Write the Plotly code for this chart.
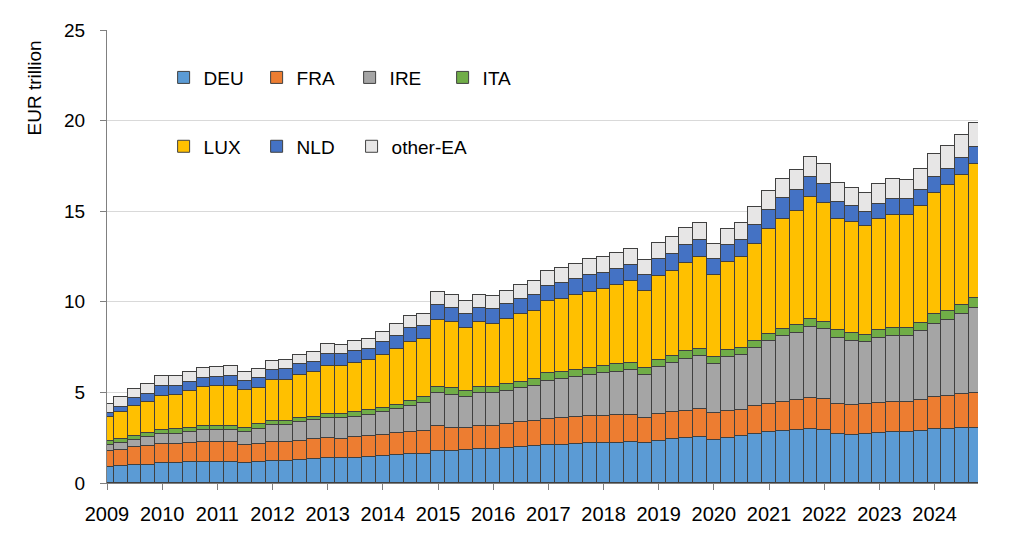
import plotly.graph_objects as go

# quarterly positions of euro area investment funds, EUR trillion
years = list(range(2009, 2025))
quarters = [f"{y}Q{q}" for y in years for q in range(1, 5)]

deu = [0.87, 0.94, 1.00, 1.02, 1.09, 1.09, 1.16, 1.16, 1.16, 1.16, 1.13, 1.16,
       1.24, 1.22, 1.27, 1.31, 1.36, 1.36, 1.38, 1.42, 1.47, 1.53, 1.58, 1.62,
       1.77, 1.75, 1.81, 1.88, 1.88, 1.93, 2.01, 2.04, 2.10, 2.12, 2.17, 2.19,
       2.19, 2.21, 2.24, 2.20, 2.32, 2.41, 2.48, 2.54, 2.37, 2.50, 2.59, 2.70,
       2.79, 2.88, 2.92, 2.98, 2.90, 2.72, 2.66, 2.70, 2.76, 2.81, 2.81, 2.88,
       2.98, 2.98, 3.05, 3.05]
fra = [0.88, 0.88, 0.99, 1.04, 1.06, 1.06, 1.05, 1.08, 1.12, 1.08, 0.99, 1.01,
       1.04, 1.03, 1.07, 1.10, 1.10, 1.09, 1.14, 1.15, 1.18, 1.21, 1.23, 1.25,
       1.37, 1.28, 1.23, 1.28, 1.28, 1.34, 1.35, 1.39, 1.44, 1.46, 1.48, 1.50,
       1.52, 1.54, 1.52, 1.40, 1.48, 1.50, 1.49, 1.54, 1.47, 1.47, 1.43, 1.56,
       1.58, 1.61, 1.66, 1.72, 1.74, 1.65, 1.64, 1.65, 1.68, 1.68, 1.65, 1.71,
       1.76, 1.83, 1.87, 1.91]
ire = [0.33, 0.39, 0.40, 0.46, 0.53, 0.55, 0.58, 0.66, 0.64, 0.68, 0.69, 0.82,
       0.90, 0.95, 1.02, 1.04, 1.12, 1.13, 1.15, 1.19, 1.26, 1.34, 1.46, 1.54,
       1.82, 1.82, 1.73, 1.80, 1.80, 1.80, 1.87, 1.93, 2.11, 2.14, 2.20, 2.29,
       2.36, 2.39, 2.49, 2.35, 2.60, 2.69, 2.89, 2.93, 2.73, 2.96, 3.02, 3.19,
       3.44, 3.60, 3.71, 3.92, 3.86, 3.61, 3.55, 3.41, 3.54, 3.60, 3.66, 3.79,
       4.06, 4.19, 4.38, 4.70]
ita = [0.22, 0.22, 0.22, 0.24, 0.26, 0.28, 0.26, 0.26, 0.24, 0.24, 0.24, 0.24,
       0.24, 0.22, 0.22, 0.20, 0.22, 0.22, 0.24, 0.26, 0.25, 0.25, 0.28, 0.33,
       0.33, 0.38, 0.33, 0.34, 0.32, 0.38, 0.36, 0.36, 0.40, 0.39, 0.39, 0.37,
       0.40, 0.43, 0.37, 0.37, 0.40, 0.42, 0.40, 0.40, 0.38, 0.39, 0.41, 0.40,
       0.42, 0.42, 0.42, 0.43, 0.40, 0.45, 0.42, 0.42, 0.44, 0.44, 0.42, 0.46,
       0.50, 0.49, 0.55, 0.53]
lux = [1.37, 1.48, 1.65, 1.70, 1.87, 1.88, 2.02, 2.13, 2.18, 2.20, 2.07, 2.02,
       2.25, 2.29, 2.38, 2.46, 2.67, 2.67, 2.69, 2.75, 2.92, 3.08, 3.24, 3.18,
       3.68, 3.63, 3.47, 3.57, 3.50, 3.59, 3.74, 3.80, 3.99, 4.04, 4.12, 4.21,
       4.25, 4.34, 4.51, 4.28, 4.64, 4.69, 4.89, 5.04, 4.54, 4.89, 5.00, 5.35,
       5.77, 6.08, 6.31, 6.71, 6.57, 6.16, 6.12, 5.99, 6.13, 6.28, 6.25, 6.45,
       6.72, 6.95, 7.14, 7.42]
nld = [0.19, 0.28, 0.42, 0.44, 0.53, 0.51, 0.51, 0.49, 0.53, 0.55, 0.53, 0.55,
       0.58, 0.57, 0.59, 0.58, 0.66, 0.63, 0.66, 0.62, 0.69, 0.73, 0.79, 0.77,
       0.84, 0.80, 0.78, 0.77, 0.81, 0.82, 0.82, 0.84, 0.85, 0.88, 0.91, 0.91,
       0.86, 0.89, 0.91, 0.86, 0.93, 0.94, 0.97, 0.98, 0.88, 0.93, 0.98, 1.04,
       1.08, 1.14, 1.13, 1.11, 1.04, 0.93, 0.90, 0.80, 0.85, 0.84, 0.86, 0.87,
       0.89, 0.90, 0.93, 0.95]
other_ea = [0.49, 0.55, 0.53, 0.55, 0.55, 0.52, 0.53, 0.55, 0.53, 0.53, 0.48, 0.49,
            0.50, 0.50, 0.53, 0.54, 0.52, 0.53, 0.55, 0.57, 0.59, 0.62, 0.64, 0.66,
            0.73, 0.74, 0.70, 0.76, 0.73, 0.76, 0.79, 0.80, 0.80, 0.81, 0.83, 0.88,
            0.87, 0.90, 0.88, 0.82, 0.86, 0.91, 0.93, 0.94, 0.81, 0.86, 0.90, 0.97,
            1.01, 1.07, 1.11, 1.14, 1.12, 1.05, 1.00, 1.03, 1.09, 1.12, 1.08, 1.16,
            1.23, 1.24, 1.27, 1.30]

# legend rows: first row DEU..ITA, second row LUX, NLD, other-EA
series = [
    ("DEU", deu, "#5B9BD5", "legend"),
    ("FRA", fra, "#ED7D31", "legend"),
    ("IRE", ire, "#A5A5A5", "legend"),
    ("ITA", ita, "#70AD47", "legend"),
    ("LUX", lux, "#FFC000", "legend2"),
    ("NLD", nld, "#4472C4", "legend2"),
    ("other-EA", other_ea, "#E7E6E6", "legend3"),
]

FONT = "Liberation Sans, Arial, sans-serif"

fig = go.Figure()
for name, vals, col, leg in series:
    fig.add_trace(go.Bar(
        x=quarters, y=vals, name=name, legend=leg,
        marker=dict(color=col, line=dict(color="#404040", width=1)),
    ))

legend_style = dict(orientation="h", xanchor="left", yanchor="middle",
                    traceorder="normal",
                    bgcolor="rgba(0,0,0,0)",
                    font=dict(family=FONT, size=19, color="black"))
row1_y = 0.895
row2_y = 0.743
leg_x = 0.065

fig.update_layout(
    width=1024, height=542,
    # page body adds 8px, so the plot area is shifted back by that much
    margin=dict(l=99, r=54, t=17, b=67),
    barmode="stack", bargap=0,
    plot_bgcolor="white", paper_bgcolor="white",
    font=dict(family=FONT, size=19, color="black"),
    legend=dict(x=leg_x, y=row1_y, entrywidth=48, **legend_style),
    legend2=dict(x=leg_x, y=row2_y, entrywidth=48, **legend_style),
    legend3=dict(x=leg_x + 0.2158, y=row2_y, entrywidth=100, **legend_style),
    xaxis=dict(
        type="category", range=[0, 63.15],
        tickmode="array", tickvals=[f"{y}Q1" for y in years],
        ticktext=[str(y) for y in years],
        showline=True, linecolor="#808080", linewidth=1,
        ticks="outside", ticklen=6, tickcolor="#808080",
        showgrid=False, tickfont=dict(size=20), ticklabelstandoff=7,
    ),
    yaxis=dict(
        range=[0, 25], dtick=5,
        showline=True, linecolor="#808080", linewidth=1,
        ticks="outside", ticklen=6, tickcolor="#808080",
        showgrid=True, gridcolor="#D9D9D9", gridwidth=1, zeroline=False,
        tickfont=dict(size=19), ticklabelstandoff=11,
    ),
    annotations=[dict(
        text="EUR trillion", xref="paper", yref="paper",
        x=-0.0827, y=0.873, xanchor="center", yanchor="middle",
        textangle=-90, showarrow=False,
        font=dict(family=FONT, size=19, color="black"),
    )],
)

fig.write_html("out.html")
